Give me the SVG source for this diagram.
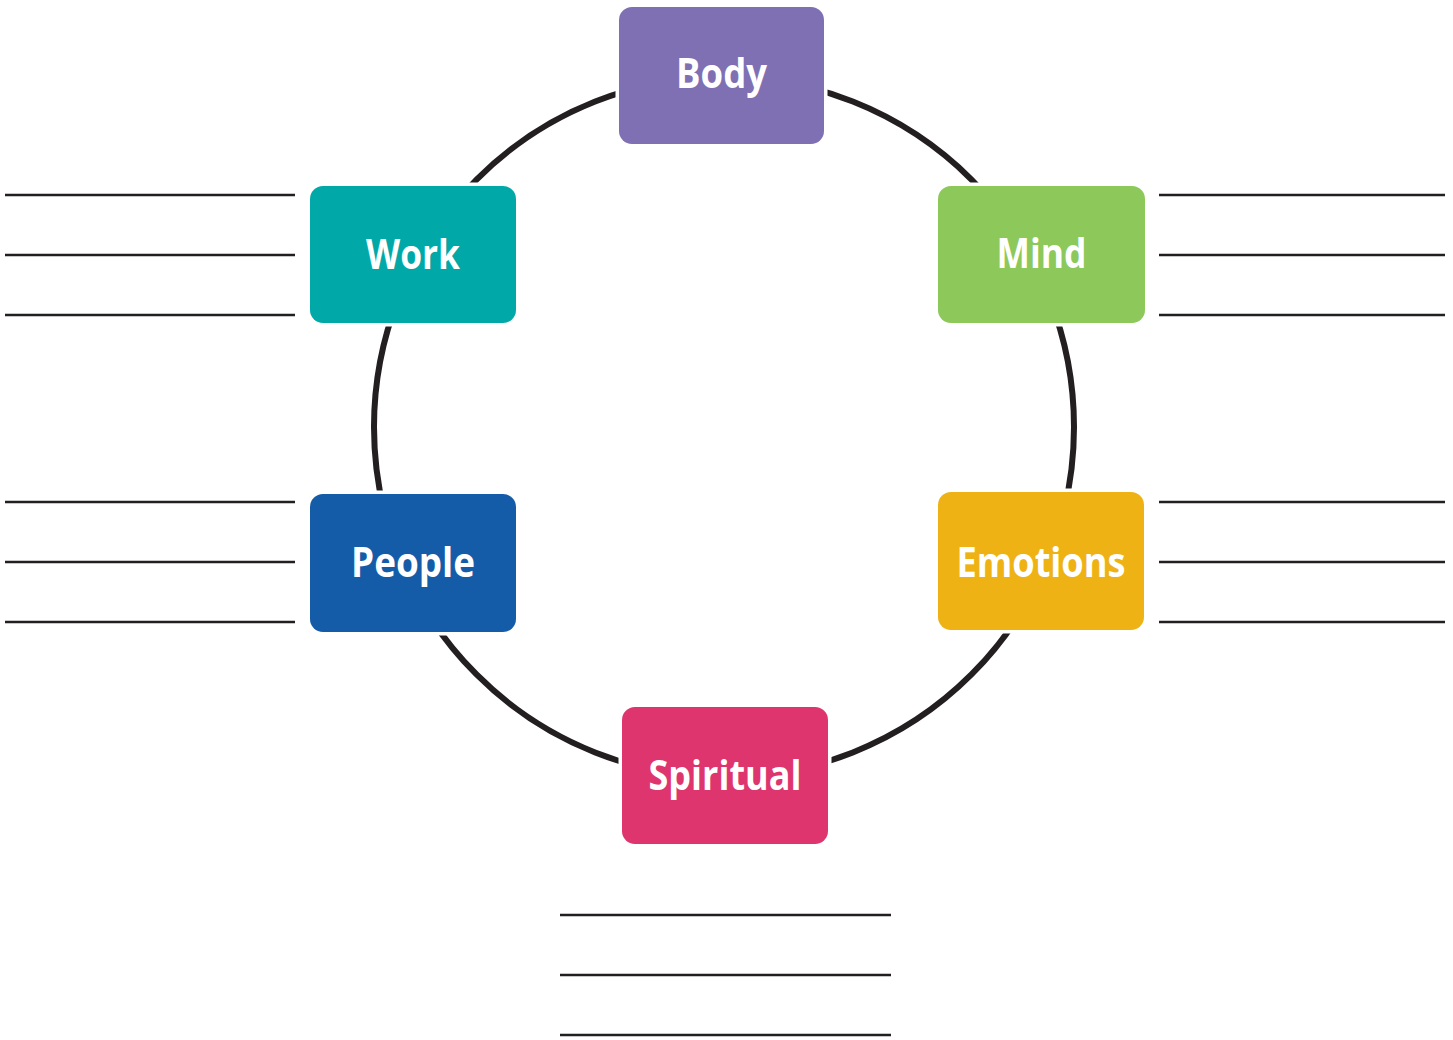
<svg xmlns="http://www.w3.org/2000/svg" width="1453" height="1040" viewBox="0 0 1453 1040">
  <style>
    .box { stroke: #ffffff; stroke-width: 7; paint-order: stroke; }
    .label { font-family: "Open Sans", "Noto Sans", "Liberation Sans", sans-serif; font-weight: 700; font-size: 42px; fill: #ffffff; text-anchor: middle; }
    .ring { fill: none; stroke: #231f20; stroke-width: 6; }
    .rule { stroke: #231f20; stroke-width: 2.5; }
  </style>
  <rect width="1453" height="1040" fill="#ffffff"/>

  <!-- ring linking the six areas -->
  <g id="connectors">
    <circle class="ring" cx="724" cy="427" r="350"/>
  </g>

  <!-- writing lines -->
  <g id="lines">
    <line class="rule" x1="5" y1="195" x2="295" y2="195"/>
    <line class="rule" x1="5" y1="255" x2="295" y2="255"/>
    <line class="rule" x1="5" y1="315" x2="295" y2="315"/>
    <line class="rule" x1="5" y1="502" x2="295" y2="502"/>
    <line class="rule" x1="5" y1="562" x2="295" y2="562"/>
    <line class="rule" x1="5" y1="622" x2="295" y2="622"/>
    <line class="rule" x1="1159" y1="195" x2="1445" y2="195"/>
    <line class="rule" x1="1159" y1="255" x2="1445" y2="255"/>
    <line class="rule" x1="1159" y1="315" x2="1445" y2="315"/>
    <line class="rule" x1="1159" y1="502" x2="1445" y2="502"/>
    <line class="rule" x1="1159" y1="562" x2="1445" y2="562"/>
    <line class="rule" x1="1159" y1="622" x2="1445" y2="622"/>
    <line class="rule" x1="560" y1="915" x2="891" y2="915"/>
    <line class="rule" x1="560" y1="975" x2="891" y2="975"/>
    <line class="rule" x1="560" y1="1035" x2="891" y2="1035"/>
  </g>

  <g id="body">
    <rect class="box" x="619" y="7" width="205" height="137" rx="13" fill="#7e70b3"/>
    <text class="label" x="721.5" y="88" textLength="91" lengthAdjust="spacingAndGlyphs">Body</text>
  </g>
  <g id="work">
    <rect class="box" x="310" y="186" width="206" height="137" rx="13" fill="#00a9a8"/>
    <text class="label" x="413" y="269" textLength="94" lengthAdjust="spacingAndGlyphs">Work</text>
  </g>
  <g id="mind">
    <rect class="box" x="938" y="186" width="207" height="137" rx="13" fill="#8cc85a"/>
    <text class="label" x="1041.5" y="268" textLength="90" lengthAdjust="spacingAndGlyphs">Mind</text>
  </g>
  <g id="people">
    <rect class="box" x="310" y="494" width="206" height="138" rx="13" fill="#155ca8"/>
    <text class="label" x="413" y="577" textLength="124" lengthAdjust="spacingAndGlyphs">People</text>
  </g>
  <g id="emotions">
    <rect class="box" x="938" y="492" width="206" height="138" rx="13" fill="#eeb215"/>
    <text class="label" x="1041" y="577" textLength="169" lengthAdjust="spacingAndGlyphs">Emotions</text>
  </g>
  <g id="spiritual">
    <rect class="box" x="622" y="707" width="206" height="137" rx="13" fill="#de356e"/>
    <text class="label" x="725" y="790" textLength="153" lengthAdjust="spacingAndGlyphs">Spiritual</text>
  </g>
</svg>
